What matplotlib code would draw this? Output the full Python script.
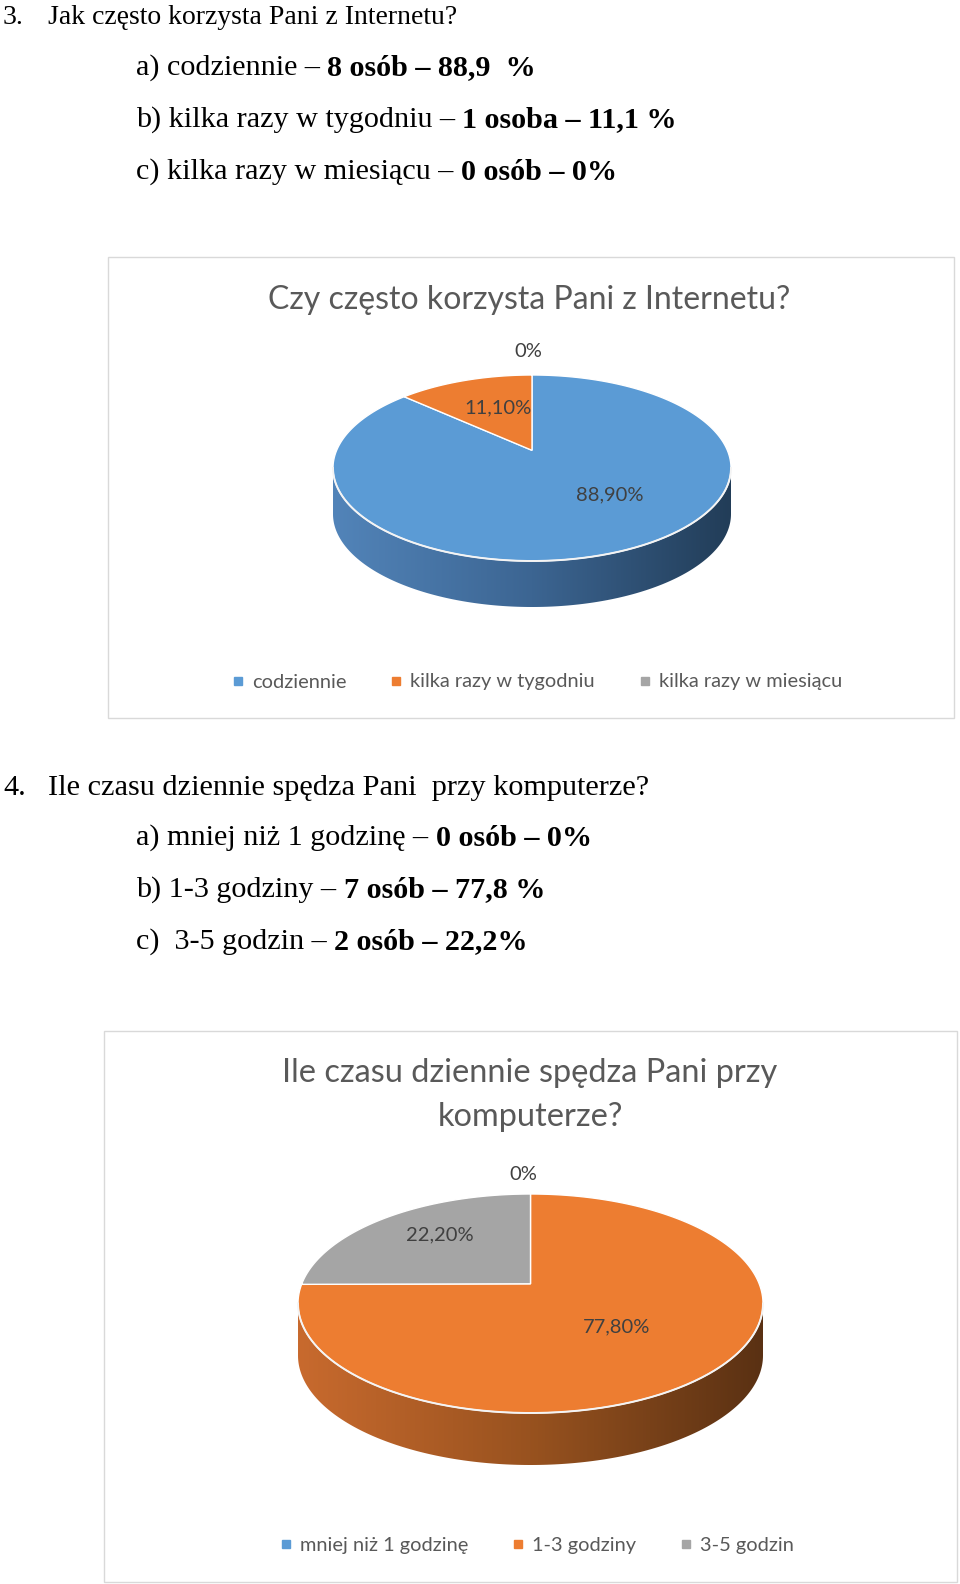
import numpy as np
import matplotlib
matplotlib.use('Agg')
import matplotlib.pyplot as plt
from matplotlib.patches import Rectangle, Polygon
from matplotlib.lines import Line2D
from matplotlib.colors import LinearSegmentedColormap

W, H = 960, 1584

# question 3
q3_title = '3.'
q3_text = 'Jak często korzysta Pani z Internetu?'
q3_answers = [('a) codziennie – ', '8 osób – 88,9  %'),
              ('b) kilka razy w tygodniu – ', '1 osoba – 11,1 %'),
              ('c) kilka razy w miesiącu – ', '0 osób – 0%')]
internet_labels = ['codziennie', 'kilka razy w tygodniu', 'kilka razy w miesiącu']
internet_pct = [88.9, 11.1, 0.0]

# question 4
q4_title = '4.'
q4_text = 'Ile czasu dziennie spędza Pani  przy komputerze?'
q4_answers = [('a) mniej niż 1 godzinę – ', '0 osób – 0%'),
              ('b) 1-3 godziny – ', '7 osób – 77,8 %'),
              ('c)  3-5 godzin – ', '2 osób – 22,2%')]
computer_labels = ['mniej niż 1 godzinę', '1-3 godziny', '3-5 godzin']
computer_pct = [0.0, 77.8, 22.2]

BLUE, ORANGE, GREY = '#5b9bd5', '#ed7d31', '#a5a5a5'
SIDES = {BLUE: ['#5284b9', '#3c6592', '#223d58'],
         ORANGE: ['#c86a2e', '#98521f', '#5a3113'],
         GREY: ['#8c8c8c', '#6a6a6a', '#474747']}

serif = ['Liberation Serif', 'DejaVu Serif']
sans = ['Lato', 'DejaVu Sans']

fig = plt.figure(figsize=(W / 100, H / 100), dpi=100)
canvas = fig.add_axes([0, 0, 1, 1])
canvas.set_xlim(0, W)
canvas.set_ylim(H, 0)
canvas.set_axis_off()
renderer = fig.canvas.get_renderer()


def mixed_line(x, y, normal, bold, size=21.7):
    t = canvas.text(x, y, normal, family=serif, fontsize=size, va='center', ha='left')
    bb = t.get_window_extent(renderer)
    x2 = canvas.transData.inverted().transform((bb.x1, bb.y0))[0]
    canvas.text(x2, y, bold, family=serif, fontsize=size, va='center', ha='left',
                fontweight='bold')


def question(y0, num, text, answers, size):
    canvas.text(3, y0, num, family=serif, fontsize=size, va='center')
    canvas.text(48, y0, text, family=serif, fontsize=size, va='center')
    for i, (a, b) in enumerate(answers):
        mixed_line(136, y0 + 50 + 52 * i, a, b)


def fmt(v):
    return '0%' if v == 0 else f'{v:.2f}'.replace('.', ',') + '%'


def pie3d(cx, cy, rx, ry, depth, tip, values, colors, label_pos):
    d = depth / ry
    m = 0.02
    left = cx - (1 + m) * rx
    bottom = cy + (1 + d + m) * ry
    ax = fig.add_axes([left / W, (H - bottom) / H, 2 * (1 + m) * rx / W,
                       (2 + 2 * m + d) * ry / H])
    wedges, _ = ax.pie(values, colors=colors, startangle=90, counterclock=False,
                       radius=1)
    # top face: wedge tips pulled up a little for the perspective look
    for w, c in zip(wedges, colors):
        w.set_visible(False)
        if w.theta2 - w.theta1 <= 0:
            continue
        a = np.radians(np.linspace(w.theta1, w.theta2, 300))
        pts = np.vstack([[0, tip], np.column_stack([np.cos(a), np.sin(a)])])
        ax.add_patch(Polygon(pts, closed=True, facecolor=c, edgecolor='white',
                             lw=1.0, zorder=3))
    # side walls of the front half
    for w, c in zip(wedges, colors):
        t1, t2 = w.theta1, w.theta2
        for k in (-360, 0, 360):
            lo, hi = max(t1, 180 + k), min(t2, 360 + k)
            if hi <= lo:
                continue
            a = np.radians(np.linspace(lo, hi, 200))
            top = np.column_stack([np.cos(a), np.sin(a)])
            low = np.column_stack([np.cos(a[::-1]), np.sin(a[::-1]) - d])
            poly = Polygon(np.vstack([top, low]), closed=True, facecolor='none',
                           edgecolor='none')
            ax.add_patch(poly)
            cmap = LinearSegmentedColormap.from_list('side', SIDES[c])
            grad = np.linspace(0, 1, 256).reshape(1, -1)
            im = ax.imshow(grad, cmap=cmap, extent=[-1, 1, -1 - d, 0],
                           aspect='auto', zorder=2, interpolation='bilinear')
            im.set_clip_path(poly)
            ax.plot(np.cos(a), np.sin(a), color='#f4f4f4', lw=1.4, zorder=3.5)
    for v, (lx, ly) in zip(values, label_pos):
        ax.text(lx, ly, fmt(v), family=sans, fontsize=14.5, color='#404040',
                ha='center', va='center', zorder=5)
    ax.set_aspect('auto')
    ax.set_xlim(-1 - m, 1 + m)
    ax.set_ylim(-1 - d - m, 1 + m)
    ax.set_axis_off()
    return ax


def legend(cx, cy, labels, colors):
    handles = [Line2D([], [], marker='s', ls='none', color=c, markersize=5.5)
               for c in colors]
    fig.legend(handles, labels, loc='center', bbox_to_anchor=(cx / W, 1 - cy / H),
               ncol=3, frameon=False, prop={'family': sans, 'size': 14.4},
               labelcolor='#595959', handlelength=0.6, handletextpad=0.4,
               columnspacing=2.2)


# text block 3
question(18, q3_title, q3_text, q3_answers, 20)

# chart 1
canvas.add_patch(Rectangle((108, 257), 846, 461, facecolor='white',
                           edgecolor='#d9d9d9', lw=1))
canvas.text(529, 300, 'Czy często korzysta Pani z Internetu?', family=sans,
            fontsize=23, color='#595959', ha='center', va='center')
pie3d(532, 468, 199, 93, 46, 0.19, internet_pct, [BLUE, ORANGE, GREY],
      [(0.39, -0.29), (-0.17, 0.645), (-0.02, 1.25)])
legend(537, 682, internet_labels, [BLUE, ORANGE, GREY])

# text block 4
question(788, q4_title, q4_text, q4_answers, 21.8)

# chart 2
canvas.add_patch(Rectangle((104, 1031), 853, 551, facecolor='white',
                           edgecolor='#d9d9d9', lw=1))
canvas.text(530, 1073, 'Ile czasu dziennie spędza Pani przy', family=sans,
            fontsize=23.4, color='#595959', ha='center', va='center')
canvas.text(530, 1117, 'komputerze?', family=sans,
            fontsize=23.4, color='#595959', ha='center', va='center')
pie3d(530.5, 1303.5, 232.5, 109.5, 52, 0.18, computer_pct, [BLUE, ORANGE, GREY],
      [(-0.03, 1.18), (0.37, -0.21), (-0.39, 0.63)])
legend(537, 1545, computer_labels, [BLUE, ORANGE, GREY])

fig.savefig('out.png', dpi=100, facecolor='white')
